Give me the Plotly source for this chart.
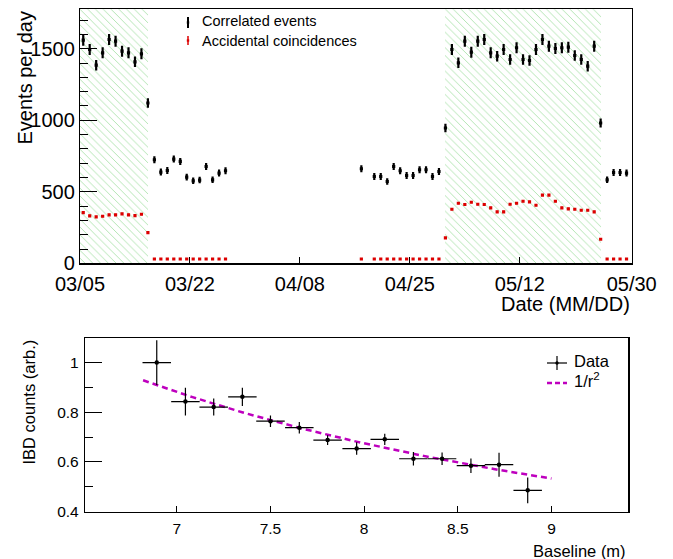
import plotly.graph_objects as go
import numpy as np

W, H = 673, 559
FONT = "Liberation Sans, Arial, Helvetica, sans-serif"

# ---------------- top panel data ----------------
date_tick_days = [0, 17, 34, 51, 68, 85.3]
date_tick_text = ["03/05", "03/22", "04/08", "04/25", "05/12", "05/30"]

days = list(range(0, 23)) + [43] + list(range(45, 85))

correlated = [1560, 1495, 1385, 1472, 1565, 1553, 1483, 1472, 1409, 1465, 1121,
              724, 638, 649, 729, 712, 603, 577, 582, 677, 584, 631, 647,
              661,
              607, 607, 572, 677, 647, 614, 614, 654, 654, 607, 642,
              946,
              1495, 1402, 1553, 1476, 1553, 1565, 1472, 1448, 1495, 1425, 1507, 1425,
              1418, 1495, 1565, 1518, 1502, 1507, 1511, 1453, 1425, 1378, 1518,
              981,
              584, 635, 635, 631]
correlated_err = [38, 38, 37, 38, 38, 38, 38, 38, 37, 38, 33,
                  25, 24, 24, 25, 25, 24, 23, 23, 25, 23, 24, 24,
                  25,
                  24, 24, 23, 25, 24, 24, 24, 24, 24, 24, 24,
                  30,
                  38, 37, 38, 38, 38, 38, 38, 37, 38, 37, 38, 37,
                  37, 38, 38, 38, 38, 38, 38, 37, 37, 37, 38,
                  31,
                  23, 24, 24, 24]

accidental = [355, 332, 325, 329, 339, 339, 346, 339, 334, 343, 215,
              30, 30, 30, 30, 30, 30, 30, 30, 30, 30, 30, 30,
              30,
              30, 30, 30, 30, 30, 30, 30, 30, 30, 30, 30,
              178,
              378, 420, 411, 427, 413, 411, 388, 360, 360, 413, 420, 434,
              430, 406, 477, 477, 434, 388, 381, 378, 371, 371, 360,
              168,
              30, 30, 30, 30]
accidental_err = [7, 7, 7, 7, 7, 7, 7, 7, 7, 7, 5,
                  2, 2, 2, 2, 2, 2, 2, 2, 2, 2, 2, 2,
                  2,
                  2, 2, 2, 2, 2, 2, 2, 2, 2, 2, 2,
                  5,
                  7, 7, 7, 7, 7, 7, 7, 7, 7, 7, 7, 7,
                  7, 7, 7, 7, 7, 7, 7, 7, 7, 7, 7,
                  5,
                  2, 2, 2, 2]

on_start = [0, 56.5]
on_end = [10.5, 80.5]

TOP_YMAX = 1776
TOP_XMAX = 85.3

# ---------------- bottom panel data ----------------
baseline = [6.893, 7.046, 7.197, 7.350, 7.500, 7.654, 7.805,
            7.960, 8.110, 8.263, 8.416, 8.570, 8.720, 8.873]
ibd = [1.000, 0.843, 0.821, 0.862, 0.764, 0.738, 0.688,
       0.654, 0.691, 0.613, 0.613, 0.585, 0.589, 0.486]
baseline_err = [0.076] * 14
ibd_err = [0.090, 0.056, 0.034, 0.037, 0.023, 0.023, 0.020,
           0.025, 0.023, 0.027, 0.025, 0.029, 0.048, 0.052]
fit_norm = 43.2
fit_rmin, fit_rmax = 6.82, 9.0

# ---------------- helpers ----------------
def px(x):
    return x / W

def py(y):
    return 1 - y / H

fig = go.Figure()

# hatched reactor-on periods
fig.add_trace(go.Bar(
    x=[(s + e) / 2 for s, e in zip(on_start, on_end)],
    y=[TOP_YMAX] * len(on_start),
    width=[e - s for s, e in zip(on_start, on_end)],
    marker=dict(color="rgba(0,0,0,0)", line=dict(width=0),
                pattern=dict(shape="\\", size=5.5, solidity=0.13,
                             fgcolor="rgb(80,195,80)", fgopacity=0.6,
                             bgcolor="rgba(0,0,0,0)")),
    xaxis="x", yaxis="y", showlegend=False, hoverinfo="skip"))

day_centers = [d + 0.5 for d in days]

fig.add_trace(go.Scatter(
    x=day_centers, y=accidental, mode="markers",
    marker=dict(color="rgb(220,0,0)", size=3.2, symbol="square"),
    error_y=dict(type="data", array=accidental_err, color="rgb(220,0,0)",
                 thickness=1.2, width=0),
    xaxis="x", yaxis="y", showlegend=False, hoverinfo="skip"))

fig.add_trace(go.Scatter(
    x=day_centers, y=correlated, mode="markers",
    marker=dict(color="black", size=3.2, symbol="square"),
    error_y=dict(type="data", array=correlated_err, color="black",
                 thickness=2.2, width=0),
    xaxis="x", yaxis="y", showlegend=False, hoverinfo="skip"))

# bottom panel
r = np.linspace(fit_rmin, fit_rmax, 100)
fig.add_trace(go.Scatter(
    x=r, y=fit_norm / r**2, mode="lines",
    line=dict(color="rgb(190,0,190)", width=2.5, dash="6px,4px"),
    xaxis="x2", yaxis="y2", showlegend=False, hoverinfo="skip"))

fig.add_trace(go.Scatter(
    x=baseline, y=ibd, mode="markers",
    marker=dict(color="black", size=4.5),
    error_x=dict(type="data", array=baseline_err, color="black", thickness=1.2, width=0),
    error_y=dict(type="data", array=ibd_err, color="black", thickness=1.2, width=0),
    xaxis="x2", yaxis="y2", showlegend=False, hoverinfo="skip"))

axis_common = dict(showgrid=False, zeroline=False, showline=True, mirror=True,
                   linecolor="black", linewidth=1.2, ticks="inside",
                   tickcolor="black", tickwidth=1, automargin=False)

annotations = [
    dict(text="Events per day", x=px(24), y=py(10), xref="paper", yref="paper",
         xanchor="center", yanchor="top", textangle=-90, showarrow=False,
         font=dict(size=20, family=FONT, color="black")),
    dict(text="Date (MM/DD)", x=px(632), y=py(304), xref="paper", yref="paper",
         xanchor="right", yanchor="middle", showarrow=False,
         font=dict(size=20, family=FONT, color="black")),
    dict(text="Correlated events", x=px(200), y=py(21), xref="paper", yref="paper",
         xanchor="left", yanchor="middle", showarrow=False,
         font=dict(size=14.5, family=FONT, color="black")),
    dict(text="Accidental coincidences", x=px(200), y=py(41), xref="paper", yref="paper",
         xanchor="left", yanchor="middle", showarrow=False,
         font=dict(size=14.5, family=FONT, color="black")),
    dict(text="IBD counts (arb.)", x=px(28), y=py(338), xref="paper", yref="paper",
         xanchor="center", yanchor="top", textangle=-90, showarrow=False,
         font=dict(size=16.5, family=FONT, color="black")),
    dict(text="Baseline (m)", x=px(628), y=py(551), xref="paper", yref="paper",
         xanchor="right", yanchor="middle", showarrow=False,
         font=dict(size=16.5, family=FONT, color="black")),
    dict(text="Data", x=px(572), y=py(361), xref="paper", yref="paper",
         xanchor="left", yanchor="middle", showarrow=False,
         font=dict(size=16.5, family=FONT, color="black")),
    dict(text="1/r<sup>2</sup>", x=px(572), y=py(380), xref="paper", yref="paper",
         xanchor="left", yanchor="middle", showarrow=False,
         font=dict(size=16.5, family=FONT, color="black")),
]

shapes = [
    # top legend symbols
    dict(type="line", xref="paper", yref="paper", x0=px(188), x1=px(188),
         y0=py(17), y1=py(28), line=dict(color="black", width=2)),
    dict(type="rect", xref="paper", yref="paper", x0=px(186.8), x1=px(189.2),
         y0=py(21.3), y1=py(23.7), fillcolor="black", line=dict(width=0)),
    dict(type="line", xref="paper", yref="paper", x0=px(188), x1=px(188),
         y0=py(36), y1=py(45), line=dict(color="rgb(220,0,0)", width=1.5)),
    dict(type="rect", xref="paper", yref="paper", x0=px(186.8), x1=px(189.2),
         y0=py(39.3), y1=py(41.7), fillcolor="rgb(220,0,0)", line=dict(width=0)),
    # bottom legend symbols
    dict(type="line", xref="paper", yref="paper", x0=px(547), x1=px(567),
         y0=py(363), y1=py(363), line=dict(color="black", width=1.2)),
    dict(type="line", xref="paper", yref="paper", x0=px(557), x1=px(557),
         y0=py(356), y1=py(370), line=dict(color="black", width=1.2)),
    dict(type="circle", xref="paper", yref="paper", x0=px(555.3), x1=px(558.7),
         y0=py(361.3), y1=py(364.7), fillcolor="black", line=dict(width=0)),
    dict(type="line", xref="paper", yref="paper", x0=px(547), x1=px(567),
         y0=py(383), y1=py(383), line=dict(color="rgb(190,0,190)", width=2.5, dash="5px,3px")),
]

fig.update_layout(
    width=W, height=H, margin=dict(l=0, r=0, t=0, b=0),
    paper_bgcolor="white", plot_bgcolor="white",
    font=dict(family=FONT, color="black"),
    showlegend=False, bargap=0, hovermode=False,
    xaxis=dict(domain=[px(80), px(631.7)], range=[0, TOP_XMAX], anchor="y",
               tickvals=date_tick_days, ticktext=date_tick_text, ticklen=6,
               tickfont=dict(size=20, family=FONT), ticklabelstandoff=2,
               **axis_common),
    yaxis=dict(domain=[py(263.3), py(9.3)], range=[0, TOP_YMAX], anchor="x",
               tickvals=[0, 500, 1000, 1500], ticklen=17,
               minor=dict(dtick=100, ticks="inside", ticklen=8, tickcolor="black"),
               tickfont=dict(size=20, family=FONT), ticklabelstandoff=0,
               **axis_common),
    xaxis2=dict(domain=[px(85), px(628.3)], range=[6.51, 9.41], anchor="y2",
                tickvals=[7, 7.5, 8, 8.5, 9], ticktext=["7", "7.5", "8", "8.5", "9"],
                ticklen=6, tickfont=dict(size=15.5, family=FONT), ticklabelstandoff=2,
                **axis_common),
    yaxis2=dict(domain=[py(511.7), py(337.7)], range=[0.4, 1.1], anchor="x2",
                tickvals=[0.4, 0.6, 0.8, 1.0], ticktext=["0.4", "0.6", "0.8", "1"],
                ticklen=17,
                minor=dict(dtick=0.1, tick0=0.4, ticks="inside", ticklen=8, tickcolor="black"),
                tickfont=dict(size=15.5, family=FONT), ticklabelstandoff=2,
                **axis_common),
    annotations=annotations, shapes=shapes,
)

fig.write_html("out.html", config={"displayModeBar": False, "staticPlot": True},
               post_script="document.body.style.margin='0';document.body.style.padding='0';")
